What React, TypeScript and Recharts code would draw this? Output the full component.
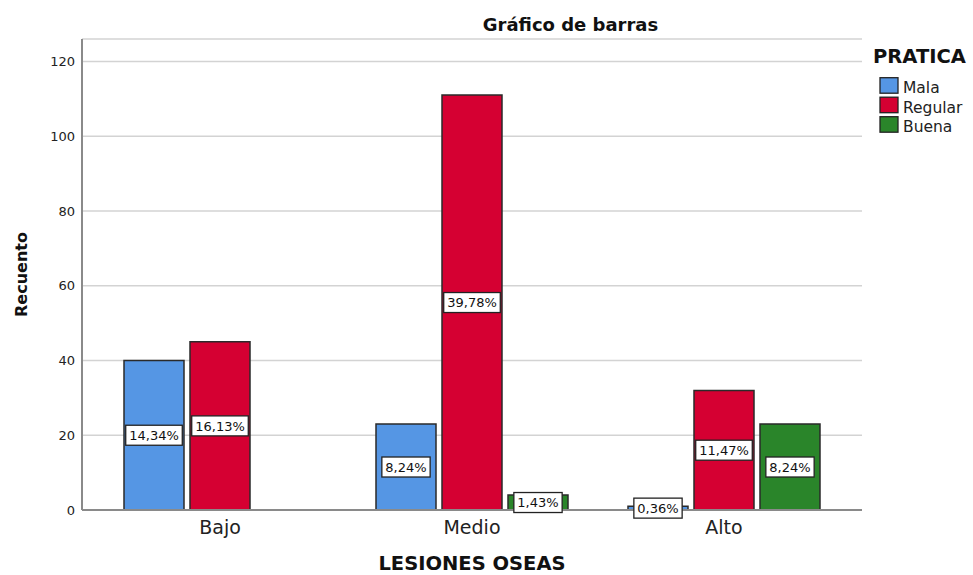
import { BarChart, Bar, XAxis, YAxis, CartesianGrid, LabelList, Legend } from "recharts";

const categories = ["Bajo", "Medio", "Alto"];
const mala = [40, 23, 1];
const regular = [45, 111, 32];
const buena = [null, 4, 23];
const yTicks = [0, 20, 40, 60, 80, 100, 120];

const series = [
  { name: "Mala", values: mala, color: "#5596E4" },
  { name: "Regular", values: regular, color: "#D50032" },
  { name: "Buena", values: buena, color: "#2A852A" },
];

const data = categories.map((cat, i) => {
  const row: Record<string, any> = { cat };
  series.forEach((s) => (row[s.name] = s.values[i]));
  return row;
});

const total = series.reduce(
  (acc, s) => acc + s.values.reduce((a: number, v) => a + (v ?? 0), 0),
  0
);

const FONT = "DejaVu Sans";

// rough DejaVu Sans widths (em) for the label boxes
const charW = (c: string) => (c === "," ? 0.318 : c === "%" ? 0.95 : 0.636);

const PctLabel = (props: any) => {
  const vb = props.viewBox ?? props;
  const { x, y, width, height } = vb;
  const value = props.value;
  if (value == null || value === 0) return null;
  const txt = ((value / total) * 100).toFixed(2).replace(".", ",") + "%";
  const w = txt.split("").reduce((a, c) => a + charW(c), 0) * 13 + 7;
  const cx = x + width / 2;
  const cy = y + height / 2;
  return (
    <g>
      <rect x={cx - w / 2} y={cy - 10} width={w} height={20} fill="#fff" stroke="#222" strokeWidth={1.3} />
      <text x={cx} y={cy} dy={4.7} textAnchor="middle" fontSize={13} fontFamily={FONT} fill="#111">
        {txt}
      </text>
    </g>
  );
};

const XTick = (props: any) => (
  <text x={props.x} y={534} textAnchor="middle" fontSize={19} fontFamily={FONT} fill="#222">
    {props.payload.value}
  </text>
);

const YTick = (props: any) => (
  <text x={75} y={props.y} dy={4.7} textAnchor="end" fontSize={13} fontFamily={FONT} fill="#222">
    {props.payload.value}
  </text>
);

const LegendBox = () => (
  <svg width={113} height={100}>
    <text x={13} y={23.3} fontSize={19.5} fontWeight="bold" fontFamily={FONT} fill="#111">
      PRATICA
    </text>
    {series.map((s, i) => (
      <g key={s.name}>
        <rect x={20} y={37.7 + i * 19.5} width={18} height={15.5} fill={s.color} stroke="#222" strokeWidth={1.3} />
        <text x={43} y={53 + i * 19.5} fontSize={15.5} fontFamily={FONT} fill="#222">
          {s.name}
        </text>
      </g>
    ))}
  </svg>
);

export default function App() {
  return (
    <div style={{ position: "absolute", left: 0, top: 0, width: 973, height: 575, background: "#fff" }}>
      <BarChart
        width={973}
        height={575}
        data={data}
        margin={{ top: 39, right: 111, bottom: 35, left: 22 }}
        barSize={60}
        barGap={6}
      >
        <CartesianGrid vertical={false} stroke="#d3d3d3" strokeWidth={1.5} />
        <XAxis
          dataKey="cat"
          height={30}
          padding={{ left: 12, right: 12 }}
          tickLine={false}
          axisLine={{ stroke: "#8a8a8a", strokeWidth: 2 }}
          tick={XTick}
          label={{
            content: () => (
              <text x={472} y={570} textAnchor="middle" fontSize={19.5} fontWeight="bold" fontFamily={FONT} fill="#111">
                LESIONES OSEAS
              </text>
            ),
          }}
        />
        <YAxis
          width={60}
          domain={[0, 126]}
          ticks={yTicks}
          tickLine={false}
          axisLine={{ stroke: "#8a8a8a", strokeWidth: 2 }}
          tick={YTick}
          label={{
            content: () => (
              <text
                x={27}
                y={274.5}
                transform="rotate(-90, 27, 274.5)"
                textAnchor="middle"
                fontSize={16}
                fontWeight="bold"
                fontFamily={FONT}
                fill="#111"
              >
                Recuento
              </text>
            ),
          }}
        />
        <Legend
          layout="vertical"
          align="center"
          verticalAlign="middle"
          content={LegendBox}
          wrapperStyle={{ left: 860, top: 40, width: 113, height: 100 }}
        />
        {series.map((s) => (
          <Bar key={s.name} dataKey={s.name} fill={s.color} stroke="#2a2a2a" strokeWidth={1.5} isAnimationActive={false}>
            <LabelList dataKey={s.name} content={PctLabel} />
          </Bar>
        ))}
      </BarChart>
      <svg width={973} height={40} style={{ position: "absolute", left: 0, top: 0, pointerEvents: "none" }}>
        <text x={570.5} y={31} textAnchor="middle" fontSize={18} fontWeight="bold" fontFamily={FONT} fill="#111">
          Gráfico de barras
        </text>
      </svg>
    </div>
  );
}
